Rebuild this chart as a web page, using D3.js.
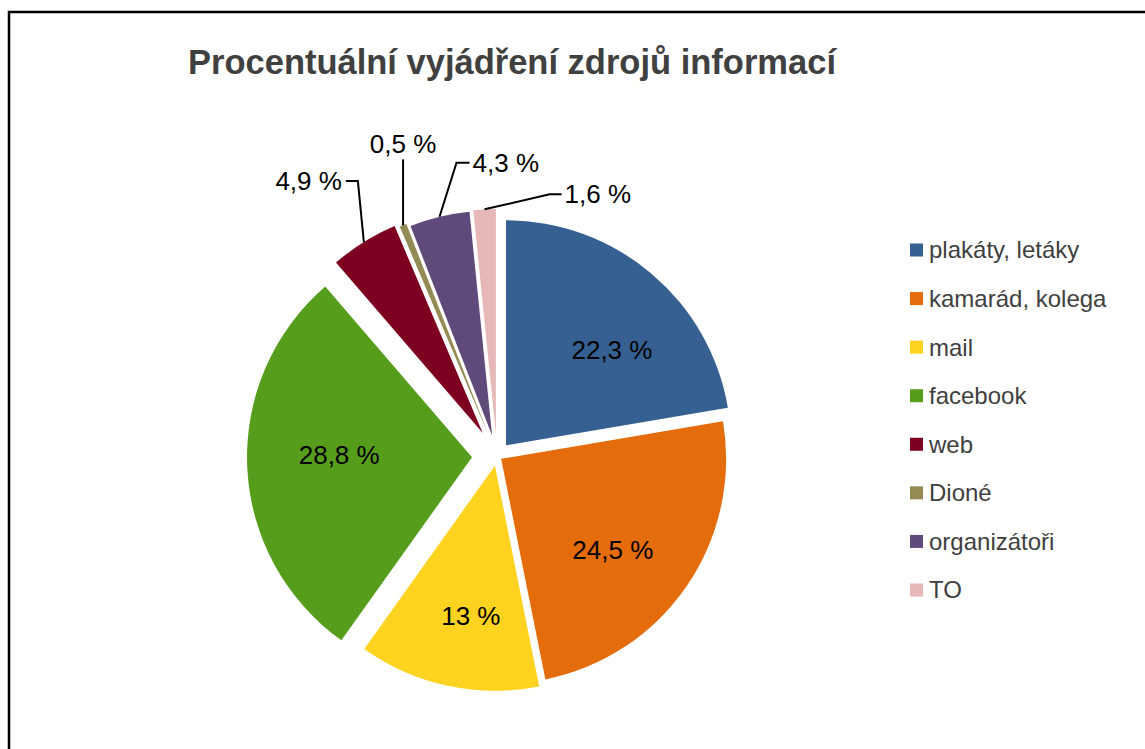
<!DOCTYPE html>
<html>
<head>
<meta charset="utf-8">
<script src="https://cdn.jsdelivr.net/npm/d3@7"></script>
<style>
  body { margin: 0; background: #fff; }
  text { font-family: "Liberation Sans", Arial, sans-serif; }
</style>
</head>
<body>
<div id="chart-container"></div>
<script>
// data
const categories = ["plakáty, letáky", "kamarád, kolega", "mail", "facebook", "web", "Dioné", "organizátoři", "TO"];
const values = [22.3, 24.5, 13, 28.8, 4.9, 0.5, 4.3, 1.6];
const colors = ["#376092", "#E46C0A", "#FFD320", "#579D1C", "#7E0021", "#948A54", "#604A7B", "#E6B9B8"];
const title = "Procentuální vyjádření zdrojů informací";

// layout (slice explosion in px, inside label nudges, outside label elbows)
const explode = [14, 5, 10, 25, 27, 24, 21, 22];
const nudge = [[13, 15], [-7, 9], [6, 9], [11, -9]];
const outside = { 4: { dx: -6, dy: -61, h: -12 }, 5: { dx: 0, dy: -66, h: 0 }, 6: { dx: 17, dy: -54, h: 13 }, 7: { dx: 65, dy: -15, h: 12 } };

const width = 1145, height = 749;
const cx = 497, cy = 456, radius = 225;

const svg = d3.select("#chart-container").append("svg")
  .attr("width", width)
  .attr("height", height);

// frame
svg.append("rect")
  .attr("x", 9).attr("y", 12)
  .attr("width", 1300).attr("height", 900)
  .attr("fill", "none")
  .attr("stroke", "#000")
  .attr("stroke-width", 2.5);

svg.append("text")
  .attr("x", 512).attr("y", 74)
  .attr("text-anchor", "middle")
  .attr("font-size", 34.5)
  .attr("font-weight", "bold")
  .attr("fill", "#404040")
  .text(title);

const pie = d3.pie().sort(null).value(d => d)(values);
const arc = d3.arc().innerRadius(0).outerRadius(radius);
const fmt = v => String(v).replace(".", ",") + " %";

const g = svg.append("g").attr("transform", `translate(${cx}, ${cy})`);

const offset = (d, i) => {
  const a = (d.startAngle + d.endAngle) / 2;
  return [Math.sin(a) * explode[i], -Math.cos(a) * explode[i]];
};

const slices = g.selectAll(".slice")
  .data(pie)
  .join("g")
  .attr("class", "slice")
  .attr("transform", (d, i) => `translate(${offset(d, i)})`);

slices.append("path")
  .attr("d", arc)
  .attr("fill", (d, i) => colors[i]);

// labels inside the big slices
const labelArc = d3.arc().innerRadius(radius * 0.64).outerRadius(radius * 0.64);
slices.filter((d, i) => !outside[i])
  .append("text")
  .attr("transform", (d, i) => {
    const c = labelArc.centroid(d);
    return `translate(${c[0] + nudge[i][0]}, ${c[1] + nudge[i][1]})`;
  })
  .attr("text-anchor", "middle")
  .attr("dy", "0.35em")
  .attr("font-size", 26)
  .attr("fill", "#000")
  .text(d => fmt(d.data));

// outside labels with leader lines
slices.each(function (d, i) {
  const o = outside[i];
  if (!o) return;
  const a = (d.startAngle + d.endAngle) / 2;
  const p0 = [Math.sin(a) * radius, -Math.cos(a) * radius];
  const p1 = [p0[0] + o.dx, p0[1] + o.dy];
  const p2 = [p1[0] + o.h, p1[1]];
  const el = d3.select(this);
  el.append("polyline")
    .attr("points", [p0, p1, p2].map(p => p.join(",")).join(" "))
    .attr("fill", "none")
    .attr("stroke", "#000")
    .attr("stroke-width", 2);
  const anchor = o.h < 0 ? "end" : (o.h > 0 ? "start" : "middle");
  el.append("text")
    .attr("x", p2[0] + (o.h < 0 ? -4 : (o.h > 0 ? 3 : 0)))
    .attr("y", o.h === 0 ? p2[1] - 6 : p2[1])
    .attr("dy", o.h === 0 ? "0" : "0.35em")
    .attr("text-anchor", anchor)
    .attr("font-size", 26)
    .attr("fill", "#000")
    .text(fmt(d.data));
});

// legend
const legend = svg.append("g").attr("transform", "translate(910, 250)");
const y = d3.scalePoint().domain(categories).range([0, 340]);
const items = legend.selectAll(".item")
  .data(categories)
  .join("g")
  .attr("class", "item")
  .attr("transform", d => `translate(0, ${y(d)})`);
items.append("rect")
  .attr("x", 0).attr("y", -6.5)
  .attr("width", 13).attr("height", 13)
  .attr("fill", (d, i) => colors[i]);
items.append("text")
  .attr("x", 19)
  .attr("dy", "0.35em")
  .attr("font-size", 24)
  .attr("fill", "#404040")
  .text(d => d);
</script>
</body>
</html>
